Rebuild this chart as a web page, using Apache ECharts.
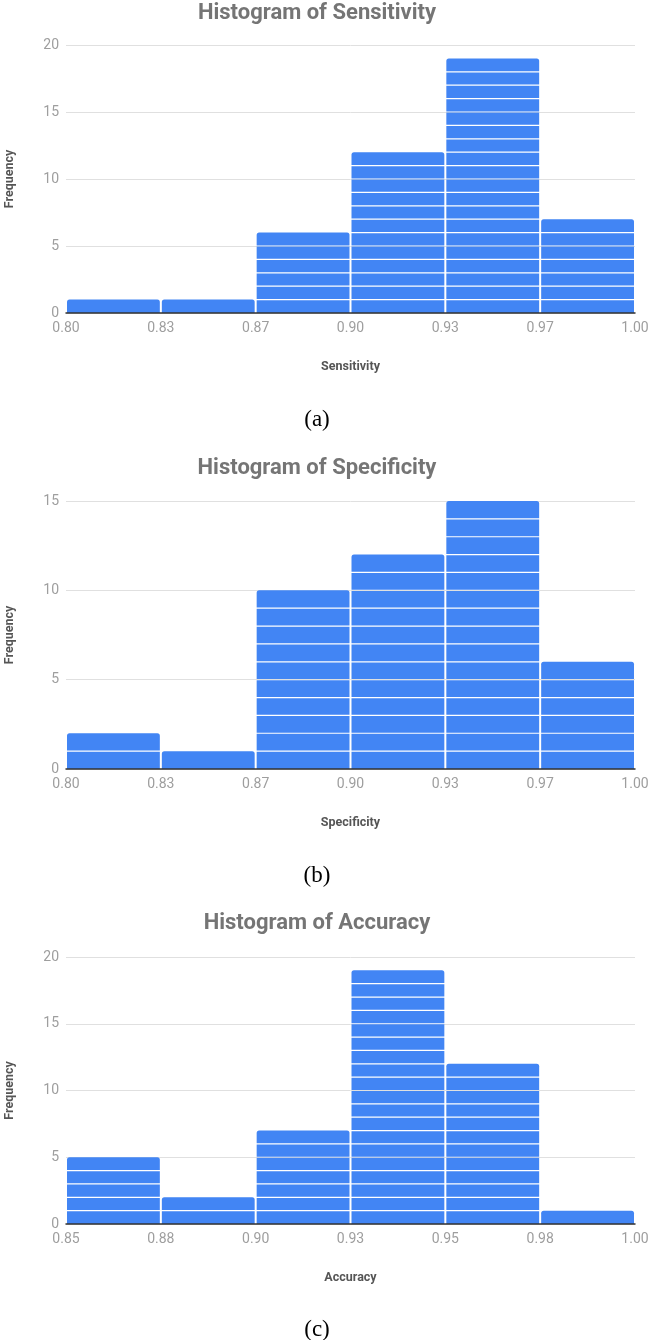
<!DOCTYPE html>
<html>
<head>
<meta charset="utf-8">
<script src="https://cdn.jsdelivr.net/npm/echarts@6/dist/echarts.min.js"></script>
<style>
  html, body { margin: 0; padding: 0; background: #fff; }
  #chart { width: 649px; height: 1340px; }
</style>
</head>
<body>
<div id="chart"></div>
<script>
// ---- data ----
const titles = ['Histogram of Sensitivity', 'Histogram of Specificity', 'Histogram of Accuracy'];
const xNames = ['Sensitivity', 'Specificity', 'Accuracy'];
const captions = ['(a)', '(b)', '(c)'];

const sensitivityTicks = ['0.80', '0.83', '0.87', '0.90', '0.93', '0.97', '1.00'];
const specificityTicks = ['0.80', '0.83', '0.87', '0.90', '0.93', '0.97', '1.00'];
const accuracyTicks    = ['0.85', '0.88', '0.90', '0.93', '0.95', '0.98', '1.00'];

const sensitivityCounts = [1, 1, 6, 12, 19, 7];
const specificityCounts = [2, 1, 10, 12, 15, 6];
const accuracyCounts    = [5, 2, 7, 19, 12, 1];

const yMaxes = [20, 15, 20];

// ---- layout ----
const panels = [
  { ticks: sensitivityTicks, counts: sensitivityCounts, top: 45,  height: 268, titleY: 13,  capY: 420 },
  { ticks: specificityTicks, counts: specificityCounts, top: 501, height: 268, titleY: 468, capY: 876 },
  { ticks: accuracyTicks,    counts: accuracyCounts,    top: 957, height: 267, titleY: 923, capY: 1330 }
];

const BLUE = '#4285f4';
const FONT = 'Roboto';

function renderItem(params, api) {
  const i = api.value(0);
  const n = api.value(1);
  const children = [];
  for (let j = 0; j < n; j++) {
    const p0 = api.coord([i, j]);
    const p1 = api.coord([i + 1, j + 1]);
    const x = p0[0] + 1;
    const w = p1[0] - p0[0] - 2;
    const yTop = p1[1] + (j === n - 1 ? 0 : 0.6);
    const yBot = p0[1] - (j === 0 ? 0 : 0.6);
    children.push({
      type: 'rect',
      shape: { x: x, y: yTop, width: w, height: yBot - yTop, r: j === n - 1 ? [2.5, 2.5, 0, 0] : 0 },
      style: { fill: BLUE }
    });
  }
  return { type: 'group', children: children };
}

const grid = [], xAxis = [], yAxis = [], series = [], graphic = [];
panels.forEach((p, k) => {
  grid.push({ left: 66, right: 14, top: p.top, height: p.height, containLabel: false, outerBoundsMode: 'none' });
  xAxis.push({
    type: 'value', gridIndex: k, min: 0, max: 6, interval: 1, z: 10,
    name: xNames[k], nameLocation: 'middle', nameGap: 47,
    nameTextStyle: { fontFamily: FONT, fontWeight: 'bold', fontSize: 12.5, color: '#555' },
    axisLine: { show: true, onZero: false, lineStyle: { color: '#333', width: 1.5 } },
    axisTick: { show: false },
    splitLine: { show: false },
    axisLabel: {
      margin: 8, fontFamily: FONT, fontSize: 14, color: '#9e9e9e',
      showMinLabel: true, showMaxLabel: true, hideOverlap: false,
      formatter: (v) => p.ticks[Math.round(v)]
    }
  });
  yAxis.push({
    type: 'value', gridIndex: k, min: 0, max: yMaxes[k], interval: 5,
    name: 'Frequency', nameLocation: 'middle', nameGap: 50, nameRotate: 90,
    nameTextStyle: { fontFamily: FONT, fontWeight: 'bold', fontSize: 12.5, color: '#555' },
    axisLine: { show: false }, axisTick: { show: false },
    splitLine: { show: true, lineStyle: { color: '#e0e0e0', width: 1 } },
    axisLabel: { margin: 7, fontFamily: FONT, fontSize: 14, color: '#9e9e9e' }
  });
  series.push({
    type: 'custom', xAxisIndex: k, yAxisIndex: k,
    renderItem: renderItem,
    encode: { x: 0, y: 1 },
    data: p.counts.map((c, i) => [i, c])
  });
  graphic.push({
    type: 'text', x: 317, y: p.titleY,
    style: { text: titles[k], fontFamily: FONT, fontWeight: 'bold', fontSize: 22, fill: '#757575',
             textAlign: 'center', textVerticalAlign: 'middle' }
  });
  graphic.push({
    type: 'text', x: 317, y: p.capY,
    style: { text: captions[k], fontFamily: '"Liberation Serif", "DejaVu Serif", serif', fontSize: 23, fill: '#000',
             textAlign: 'center', textVerticalAlign: 'middle' }
  });
});

const chart = echarts.init(document.getElementById('chart'), null, { renderer: 'canvas' });
chart.setOption({
  animation: false,
  backgroundColor: '#fff',
  grid: grid, xAxis: xAxis, yAxis: yAxis, series: series, graphic: graphic
});
</script>
</body>
</html>
